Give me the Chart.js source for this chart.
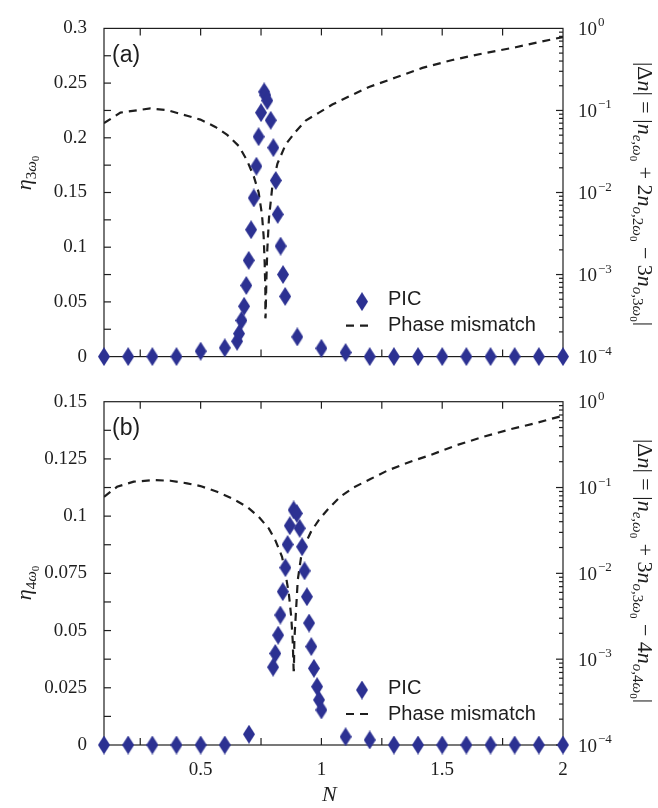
<!DOCTYPE html>
<html>
<head>
<meta charset="utf-8">
<script src="https://cdn.jsdelivr.net/npm/chart.js@4.4.1/dist/chart.umd.min.js"></script>
<style>
  html, body { margin: 0; padding: 0; background: #fff; }
  #wrap { position: relative; width: 658px; height: 808px; }
  canvas { position: absolute; left: 0; }
</style>
</head>
<body>
<div id="wrap">
  <canvas id="chartA" width="658" height="385" style="top:0px"></canvas>
  <canvas id="chartB" width="658" height="436" style="top:372px"></canvas>
</div>
<script>
// ---- data ----
// panel (a): third harmonic
const picTopN   = [0.1, 0.2, 0.3, 0.4, 0.5, 0.6, 0.651, 0.659, 0.669, 0.68, 0.689, 0.699, 0.709, 0.72, 0.731, 0.74, 0.75,
                   0.763, 0.768, 0.776, 0.79, 0.801, 0.811, 0.819, 0.831, 0.841, 0.85, 0.9, 1.0, 1.1,
                   1.2, 1.3, 1.4, 1.5, 1.6, 1.7, 1.8, 1.9, 2.0];
const picTopEta = [0, 0, 0, 0, 0.005, 0.008, 0.014, 0.021, 0.033, 0.046, 0.065, 0.088, 0.116, 0.145, 0.174, 0.201, 0.223,
                   0.242, 0.239, 0.234, 0.216, 0.191, 0.161, 0.130, 0.101, 0.075, 0.055, 0.018, 0.0076, 0.0037,
                   0, 0, 0, 0, 0, 0, 0, 0, 0];
const mismatchTopN  = [0.1, 0.168, 0.292, 0.361, 0.444, 0.499, 0.561, 0.61, 0.658, 0.692, 0.72, 0.74, 0.754, 0.761, 0.765, 0.768, 0.768,
                       0.769, 0.772, 0.776, 0.783, 0.797, 0.818, 0.852, 0.893, 0.935, 0.99, 1.045, 1.114, 1.197, 1.307, 1.418,
                       1.542, 1.666, 1.804, 1.956, 2.0];
const mismatchTopDn = [0.070, 0.0942, 0.1057, 0.1012, 0.0861, 0.0774, 0.063, 0.0504, 0.0368, 0.0246, 0.0157, 0.01005, 0.00536, 0.00287, 0.0014, 0.000627, 0.000293,
                       0.000306, 0.000818, 0.00202, 0.00491, 0.012, 0.0225, 0.0385, 0.0551, 0.0753, 0.0942, 0.118, 0.148, 0.193, 0.252, 0.33,
                       0.412, 0.493, 0.589, 0.738, 0.785];

// panel (b): fourth harmonic
const picBotN   = [0.1, 0.2, 0.3, 0.4, 0.5, 0.6, 0.7, 0.8, 0.809, 0.821, 0.83, 0.84, 0.851, 0.86, 0.869, 0.885,
                   0.898, 0.91, 0.92, 0.93, 0.94, 0.949, 0.958, 0.969, 0.982, 0.99, 1.0, 1.1, 1.2,
                   1.3, 1.4, 1.5, 1.6, 1.7, 1.8, 1.9, 2.0];
const picBotEta = [0, 0, 0, 0, 0, 0, 0.0047, 0.034, 0.040, 0.048, 0.0568, 0.067, 0.0775, 0.0876, 0.0958, 0.1027,
                   0.1012, 0.0947, 0.0866, 0.0761, 0.0648, 0.0533, 0.043, 0.0335, 0.0255, 0.0197, 0.0153, 0.0036, 0.0022,
                   0, 0, 0, 0, 0, 0, 0, 0];
const mismatchBotN  = [0.1, 0.154, 0.223, 0.306, 0.375, 0.444, 0.499, 0.568, 0.63, 0.692, 0.74, 0.782, 0.809, 0.837, 0.851, 0.865, 0.875, 0.881, 0.885,
                       0.886, 0.888, 0.895, 0.902, 0.916, 0.934, 0.957, 0.989, 1.03, 1.078, 1.134, 1.203, 1.272, 1.368, 1.451,
                       1.562, 1.672, 1.782, 1.893, 2.0];
const mismatchBotDn = [0.078, 0.102, 0.117, 0.122, 0.12, 0.112, 0.104, 0.0893, 0.0748, 0.0597, 0.0457, 0.0334, 0.0244, 0.0156, 0.01, 0.00585, 0.00312, 0.00167, 0.000746,
                       0.000746, 0.00167, 0.00374, 0.00836, 0.0156, 0.0224, 0.0306, 0.0418, 0.0572, 0.0782, 0.1005, 0.1256, 0.157, 0.2, 0.239,
                       0.313, 0.391, 0.477, 0.569, 0.687];

// axis ticks
const nTicks = [0.5, 1, 1.5, 2];
const nTickLabels = ['0.5', '1', '1.5', '2'];
const nMinorTicks = [0.25, 0.5, 0.75, 1, 1.25, 1.5, 1.75];
const etaTopTicks = [0, 0.05, 0.1, 0.15, 0.2, 0.25, 0.3];
const etaTopLabels = ['0', '0.05', '0.1', '0.15', '0.2', '0.25', '0.3'];
const etaTopMinor = [0.025, 0.05, 0.075, 0.1, 0.125, 0.15, 0.175, 0.2, 0.225, 0.25, 0.275];
const etaBotTicks = [0, 0.025, 0.05, 0.075, 0.1, 0.125, 0.15];
const etaBotLabels = ['0', '0.025', '0.05', '0.075', '0.1', '0.125', '0.15'];
const etaBotMinor = [0.0125, 0.025, 0.0375, 0.05, 0.0625, 0.075, 0.0875, 0.1, 0.1125, 0.125, 0.1375];
const dnExponents = [0, -1, -2, -3, -4];

const PIC_COLOR = '#2c3192';
const INK = '#1e1e1e';
const SERIF = '"Liberation Serif", "DejaVu Serif", serif';
const SANS = '"Liberation Sans", Arial, sans-serif';

function diamond(w, h, color) {
    const c = document.createElement('canvas');
    c.width = w; c.height = h;
    const g = c.getContext('2d');
    g.fillStyle = color;
    g.beginPath();
    g.moveTo(w / 2, 0); g.lineTo(w, h / 2); g.lineTo(w / 2, h); g.lineTo(0, h / 2);
    g.closePath();
    g.fill();
    return c;
}
const diamondImg = diamond(12, 19, PIC_COLOR);

// rich text with sub/subsub scripts: [text, size, italic, shift]
const M  = t => [t, 22, false, 0];
const I  = t => [t, 22, true, 0];
const S  = t => [t, 15, true, 5];
const SN = t => [t, 15, false, 5];
const SS = t => [t, 11, false, 8];

function richText(ctx, parts, x, y, angle) {
    let w = 0;
    const widths = parts.map(p => {
        ctx.font = (p[2] ? 'italic ' : '') + p[1] + 'px ' + SERIF;
        const pw = ctx.measureText(p[0]).width;
        w += pw;
        return pw;
    });
    ctx.save();
    ctx.translate(x, y);
    ctx.rotate(angle);
    ctx.fillStyle = INK;
    ctx.textAlign = 'left';
    ctx.textBaseline = 'alphabetic';
    let cx = -w / 2;
    parts.forEach((p, i) => {
        ctx.font = (p[2] ? 'italic ' : '') + p[1] + 'px ' + SERIF;
        ctx.fillText(p[0], cx, 7 + p[3]);
        cx += widths[i];
    });
    ctx.restore();
}

function line(ctx, x1, y1, x2, y2) {
    ctx.beginPath(); ctx.moveTo(x1, y1); ctx.lineTo(x2, y2); ctx.stroke();
}

const framePlugin = {
    id: 'frame',
    beforeDatasetsDraw(chart, args, p) {
        const { ctx, chartArea: a, scales } = chart;
        ctx.save();
        ctx.strokeStyle = INK;
        ctx.lineWidth = 1.2;
        ctx.strokeRect(a.left, a.top, a.right - a.left, a.bottom - a.top);
        nMinorTicks.forEach(v => {
            const x = scales.x.getPixelForValue(v);
            line(ctx, x, a.bottom, x, a.bottom - 7);
            line(ctx, x, a.top, x, a.top + 7);
        });
        p.etaMinor.forEach(v => {
            const y = scales.y.getPixelForValue(v);
            line(ctx, a.left, y, a.left + 7, y);
        });
        for (let e = -4; e < 0; e++) {
            for (let m = 1; m < 10; m++) {
                const y = scales.y2.getPixelForValue(m * Math.pow(10, e));
                line(ctx, a.right, y, a.right - (m === 1 ? 7 : 4), y);
            }
        }
        ctx.restore();
    },
    afterDraw(chart, args, p) {
        const { ctx, chartArea: a, scales } = chart;
        ctx.save();
        // log tick labels with superscripts
        dnExponents.forEach(e => {
            const y = scales.y2.getPixelForValue(Math.pow(10, e));
            ctx.fillStyle = INK;
            ctx.textAlign = 'left';
            ctx.textBaseline = 'alphabetic';
            ctx.font = '19px ' + SERIF;
            ctx.fillText('10', a.right + 15, y + 6.5);
            const w = ctx.measureText('10').width;
            ctx.font = '13px ' + SERIF;
            ctx.fillText(e === 0 ? '0' : '\u2212' + (-e), a.right + 16 + w, y - 2);
        });
        // axis titles
        richText(ctx, p.leftTitle, 24, p.leftTitleY, -Math.PI / 2);
        richText(ctx, p.rightTitle, 645, p.rightTitleY, Math.PI / 2);
        if (p.showN) {
            ctx.font = 'italic 22px ' + SERIF;
            ctx.textAlign = 'center';
            ctx.textBaseline = 'middle';
            ctx.fillText('N', scales.x.getPixelForValue(1.0) + 8, p.nY);
        }
        // panel letter
        ctx.font = '23px ' + SANS;
        ctx.textAlign = 'left';
        ctx.textBaseline = 'middle';
        ctx.fillStyle = INK;
        ctx.fillText(p.letter, a.left + 8, a.top + 27);
        // legend
        const ly = a.bottom - 57;
        ctx.drawImage(diamondImg, 362 - 6, ly + 2 - 9.5);
        ctx.font = '20px ' + SANS;
        ctx.fillText('PIC', 388, ly);
        ctx.strokeStyle = INK;
        ctx.lineWidth = 2.2;
        ctx.setLineDash([8, 6]);
        line(ctx, 346, ly + 26, 374, ly + 26);
        ctx.setLineDash([]);
        ctx.fillText('Phase mismatch', 388, ly + 26);
        ctx.restore();
    }
};

function makePanel(canvasId, p) {
    const ctx = document.getElementById(canvasId).getContext('2d');
    return new Chart(ctx, {
        type: 'scatter',
        data: {
            datasets: [{
                label: 'PIC',
                data: p.picN.map((n, i) => ({ x: n, y: p.picEta[i] })),
                yAxisID: 'y',
                pointStyle: diamondImg,
                pointRadius: 8,
                showLine: false,
                clip: false,
                order: 0
            }, {
                label: 'Phase mismatch',
                data: p.dnN.map((n, i) => ({ x: n, y: p.dn[i] })),
                yAxisID: 'y2',
                showLine: true,
                borderColor: INK,
                borderWidth: 2.2,
                borderDash: [8, 6],
                pointRadius: 0,
                tension: 0,
                fill: false,
                order: 1
            }]
        },
        options: {
            responsive: false,
            animation: false,
            events: [],
            layout: { padding: { top: p.padTop, left: 0, right: 0, bottom: 0 } },
            plugins: { legend: { display: false }, tooltip: { enabled: false }, frame: p },
            scales: {
                x: {
                    type: 'linear', position: 'bottom', min: 0.1, max: 2,
                    grid: { display: false, drawTicks: false }, border: { display: false },
                    afterBuildTicks: s => { s.ticks = nTicks.map(v => ({ value: v })); },
                    ticks: {
                        display: p.showN, padding: 14, autoSkip: false, maxRotation: 0, color: INK,
                        font: { family: SERIF, size: 19 },
                        callback: v => nTickLabels[nTicks.indexOf(v)]
                    },
                    afterFit: s => { s.height = p.xHeight; }
                },
                y: {
                    type: 'linear', position: 'left', min: 0, max: p.etaMax,
                    grid: { display: false, drawTicks: false }, border: { display: false },
                    afterBuildTicks: s => { s.ticks = p.etaTicks.map(v => ({ value: v })); },
                    ticks: {
                        padding: 17, color: INK, font: { family: SERIF, size: 19 },
                        callback: v => p.etaLabels[p.etaTicks.indexOf(v)]
                    },
                    afterFit: s => { s.width = 104; }
                },
                y2: {
                    type: 'logarithmic', position: 'right', min: 1e-4, max: 1,
                    grid: { display: false, drawTicks: false }, border: { display: false },
                    ticks: { display: false },
                    afterFit: s => { s.width = 95; }
                }
            }
        },
        plugins: [framePlugin]
    });
}

makePanel('chartA', {
    picN: picTopN, picEta: picTopEta, dnN: mismatchTopN, dn: mismatchTopDn,
    etaMax: 0.3, etaTicks: etaTopTicks, etaLabels: etaTopLabels, etaMinor: etaTopMinor,
    padTop: 22, xHeight: 19, showN: false, letter: '(a)',
    leftTitle: [I('\u03b7'), SN('3'), S('\u03c9'), SS('0')], leftTitleY: 173,
    rightTitle: [M('|\u0394'), I('n'), M('| = |'), I('n'), S('e'), SN(','), S('\u03c9'), SS('0'),
                 M(' + 2'), I('n'), S('o'), SN(',2'), S('\u03c9'), SS('0'),
                 M(' \u2212 3'), I('n'), S('o'), SN(',3'), S('\u03c9'), SS('0'), M('|')],
    rightTitleY: 194
});

makePanel('chartB', {
    picN: picBotN, picEta: picBotEta, dnN: mismatchBotN, dn: mismatchBotDn,
    etaMax: 0.15, etaTicks: etaBotTicks, etaLabels: etaBotLabels, etaMinor: etaBotMinor,
    padTop: 29.7, xHeight: 63, showN: true, nY: 423, letter: '(b)',
    leftTitle: [I('\u03b7'), SN('4'), S('\u03c9'), SS('0')], leftTitleY: 211,
    rightTitle: [M('|\u0394'), I('n'), M('| = |'), I('n'), S('e'), SN(','), S('\u03c9'), SS('0'),
                 M(' + 3'), I('n'), S('o'), SN(',3'), S('\u03c9'), SS('0'),
                 M(' \u2212 4'), I('n'), S('o'), SN(',4'), S('\u03c9'), SS('0'), M('|')],
    rightTitleY: 199
});
</script>
</body>
</html>
